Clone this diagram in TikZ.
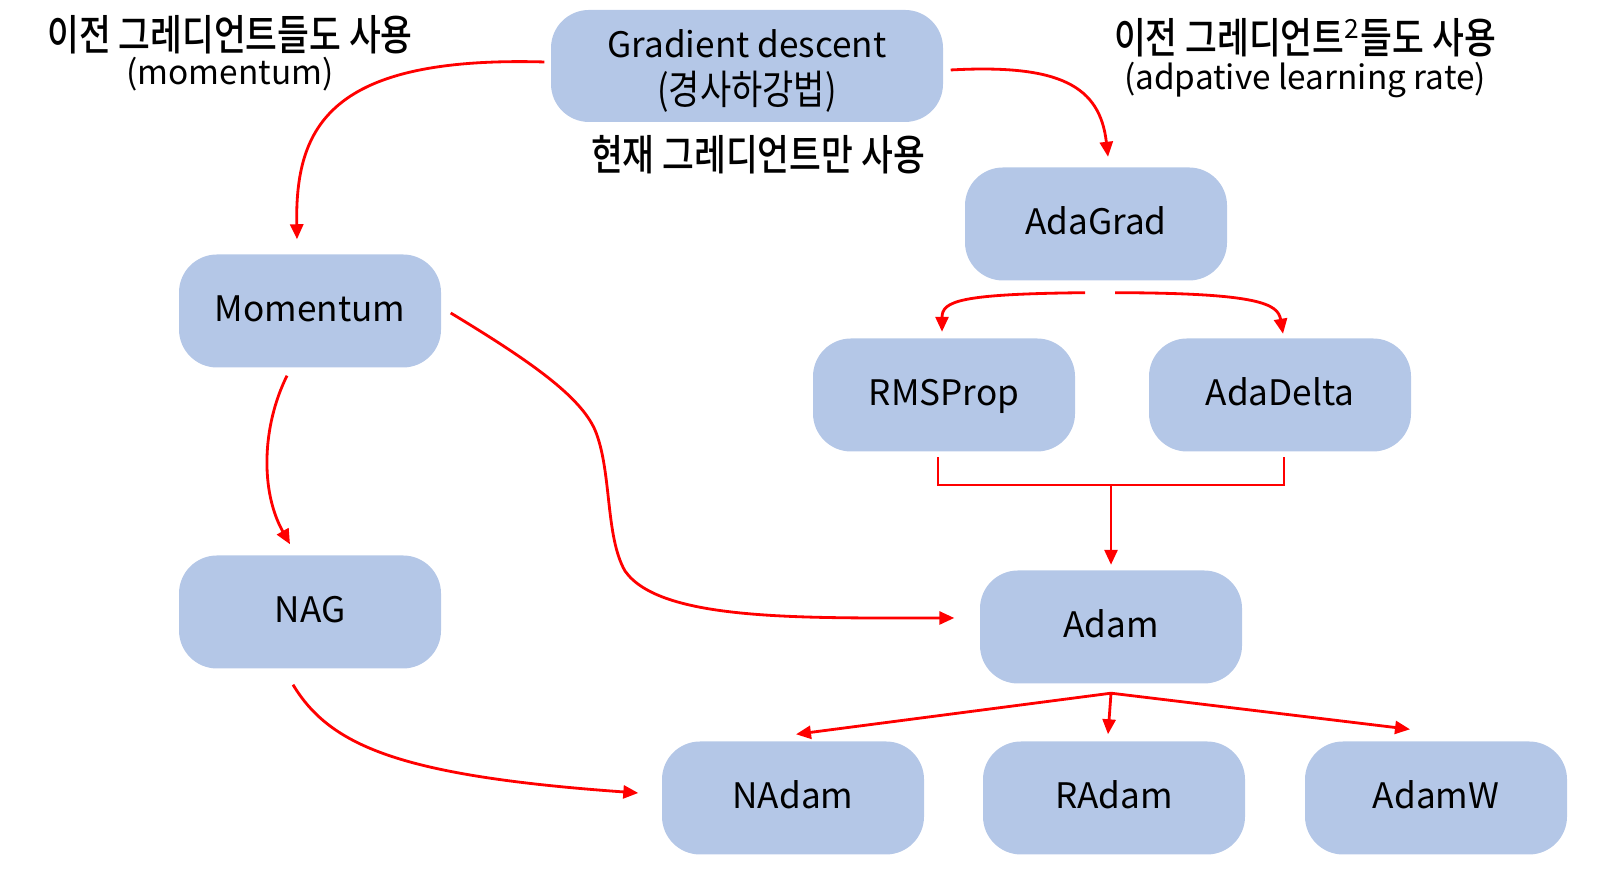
\documentclass[tikz,border=0pt]{standalone}
\usepackage{fontspec}
\setmainfont{Noto Sans CJK KR}
\newfontfamily\kfont[FakeStretch=0.84]{Noto Sans CJK KR}
\newfontfamily\kmedfont[FakeStretch=0.82]{Noto Sans CJK KR Medium}
\usetikzlibrary{arrows.meta}
\definecolor{boxblue}{HTML}{B4C7E7}
\definecolor{arrred}{HTML}{FF0000}

\tikzset{
  box/.style={fill=boxblue, rounded corners=0.38cm, minimum width=2.62cm,
    minimum height=1.13cm, inner sep=0pt, align=center,
    font=\fontsize{10}{12.3}\selectfont},
  algo/.style={box, text height=1.55ex, text depth=0.45ex},
  arr/.style={draw=arrred, line width=0.8pt, -{Triangle[length=0.15cm,width=0.13cm]}},
  bracket/.style={draw=arrred, line width=0.8pt},
  note/.style={inner sep=0pt, font=\kmedfont\fontsize{12}{14}\selectfont},
  subnote/.style={inner sep=0pt, font=\fontsize{9.5}{11}\selectfont}
}

\begin{document}
\begin{tikzpicture}
\useasboundingbox (0,0) rectangle (16.03,8.76);

\node [box, minimum width=3.92cm, minimum height=1.12cm] (GD) at (7.47, 8.10) {};
\node [box, fill=none, minimum width=0pt, minimum height=0pt] (GDtext) at (7.47, 8.05)
  {Gradient descent\\[1.2pt]{\kfont\fontsize{11.5}{12.3}\selectfont(경사하강법)}};
\node [algo] (AdaGrad) at (10.96, 6.52) {AdaGrad};
\node [algo] (Momentum) at (3.10, 5.65) {Momentum};
\node [algo] (RMSProp) at (9.44, 4.81) {RMSProp};
\node [algo] (AdaDelta) at (12.80, 4.81) {AdaDelta};
\node [algo] (NAG) at (3.10, 2.64) {NAG};
\node [algo] (Adam) at (11.11, 2.49) {Adam};
\node [algo] (NAdam) at (7.93, 0.78) {NAdam};
\node [algo] (RAdam) at (11.14, 0.78) {RAdam};
\node [algo] (AdamW) at (14.36, 0.78) {AdamW};

\node [note] (prevnote) at (2.30, 8.41) {이전 그레디언트들도 사용};
\node [subnote] (prevsub) at (2.30, 8.02) {(momentum)};
\node [note] (curnote) at (7.58, 7.21) {현재 그레디언트만 사용};
\node [note] (sqnote) at (13.05, 8.38) {이전 그레디언트\textsuperscript{\normalfont\fontsize{7.5}{8}\selectfont 2}들도 사용};
\node [subnote] (sqsub) at (13.05, 7.96) {(adpative learning rate)};

\draw [arr] ([xshift=-0.06cm,yshift=0.04cm]GD.west)
  .. controls (3.3, 8.2) and (2.95, 7.5) .. ([xshift=-0.13cm,yshift=0.145cm]Momentum.north);
\draw [arr] ([xshift=0.07cm,yshift=-0.04cm]GD.east)
  .. controls (10.6, 8.12) and (11.0, 7.9) .. ([xshift=0.12cm,yshift=0.10cm]AdaGrad.north);

\draw [arr] ([xshift=-0.11cm,yshift=-0.115cm]AdaGrad.south)
  .. controls (9.6, 5.82) and (9.42, 5.75) .. ([xshift=-0.02cm,yshift=0.06cm]RMSProp.north);
\draw [arr] ([xshift=0.19cm,yshift=-0.115cm]AdaGrad.south)
  .. controls (12.6, 5.83) and (12.78, 5.72) .. ([xshift=0.03cm,yshift=0.04cm]AdaDelta.north);

\coordinate (join) at (11.11, 3.91);
\draw [bracket] ([xshift=-0.06cm,yshift=-0.05cm]RMSProp.south) |- (join)
  -| ([xshift=0.04cm,yshift=-0.05cm]AdaDelta.south);
\draw [arr] (join) -- ([yshift=0.05cm]Adam.north);

\draw [arr] ([xshift=-0.23cm,yshift=-0.075cm]Momentum.south)
  .. controls (2.62, 4.5) and (2.60, 3.85) .. ([xshift=-0.2cm,yshift=0.105cm]NAG.north);
\draw [arr] ([xshift=0.09cm,yshift=-0.02cm]Momentum.east)
  .. controls (5.30, 5.15) and (5.80, 4.80) .. (5.95, 4.46)
  .. controls (6.12, 4.05) and (6.05, 3.40) .. (6.25, 3.05)
  .. controls (6.60, 2.55) and (8.00, 2.58) .. ([xshift=-0.25cm,yshift=0.09cm]Adam.west);
\draw [arr] ([xshift=-0.17cm,yshift=-0.155cm]NAG.south)
  .. controls (3.30, 1.30) and (4.00, 1.00) .. ([xshift=-0.23cm,yshift=0.05cm]NAdam.west);

\coordinate (split) at ([yshift=-0.09cm]Adam.south);
\foreach \n/\dx/\dy in {NAdam/0.03/0.065, RAdam/-0.06/0.065, AdamW/-0.26/0.115}
  \draw [arr] (split) -- ([xshift=\dx cm,yshift=\dy cm]\n.north);
\end{tikzpicture}
\end{document}
